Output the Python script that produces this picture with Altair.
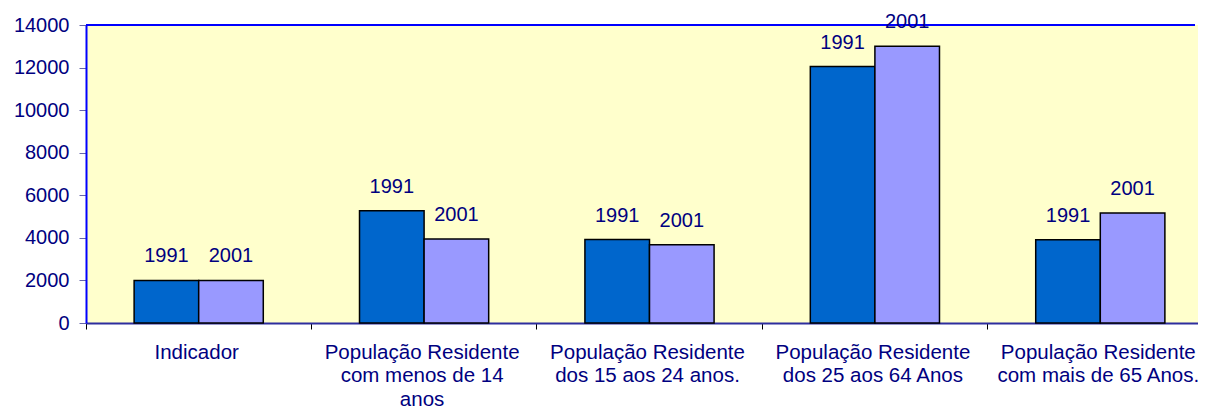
import altair as alt
import pandas as pd

categories = [
    "Indicador",
    "População Residente|com menos de 14|anos",
    "População Residente|dos 15 aos 24 anos.",
    "População Residente|dos 25 aos 64 Anos",
    "População Residente|com mais de 65 Anos.",
]
years = ["1991", "2001"]
values_1991 = [2000, 5270, 3920, 12050, 3910]
values_2001 = [2000, 3950, 3680, 13000, 5170]
y_ticks = [0, 2000, 4000, 6000, 8000, 10000, 12000, 14000]

rows = []
for c, a, b in zip(categories, values_1991, values_2001):
    rows.append({"cat": c, "year": years[0], "value": a})
    rows.append({"cat": c, "year": years[1], "value": b})
df = pd.DataFrame(rows)

FONT = "Liberation Sans"
NAVY = "#000080"
W = 1112
H = 298

x_scale = alt.Scale(range=[0, 1127], paddingInner=0, paddingOuter=0)

x_enc = alt.X(
    "cat:N",
    sort=categories,
    scale=x_scale,
    axis=alt.Axis(
        title=None,
        labelAngle=0,
        bandPosition=0,
        labelExpr="split(datum.label, '|')",
        labelFont=FONT,
        labelFontSize=20.5,
        labelColor=NAVY,
        labelLineHeight=23.5,
        labelPadding=13,
        labelBaseline="top",
        tickSize=6,
        tickColor="#000000",
        domainColor="#2E2E9E",
        domainWidth=2,
        labelLimit=0,
        labelOffset=-2,
    ),
)
xoff_enc = alt.XOffset("year:N", sort=years, scale=alt.Scale(paddingOuter=0.745, paddingInner=0))
y_enc = alt.Y(
    "value:Q",
    scale=alt.Scale(domain=[0, 14000], nice=False),
    axis=alt.Axis(
        title=None,
        values=y_ticks,
        format="d",
        grid=False,
        labelFont=FONT,
        labelFontSize=20,
        labelColor=NAVY,
        labelPadding=10,
        tickSize=7,
        tickColor="#6666AA",
        domainColor="#0000FF",
        domainWidth=2,
    ),
)

base = alt.Chart(df)

bars = base.mark_bar(stroke="#000000", strokeWidth=1.5).encode(
    x=x_enc,
    xOffset=xoff_enc,
    y=y_enc,
    color=alt.Color(
        "year:N",
        scale=alt.Scale(domain=years, range=["#0066CC", "#9999FF"]),
        legend=None,
    ),
)

labels = base.mark_text(
    font=FONT, fontSize=20, color=NAVY, baseline="middle", dy=-24
).encode(
    x=x_enc,
    xOffset=xoff_enc,
    y=y_enc,
    text="year:N",
)

top_border = alt.Chart(pd.DataFrame({"v": [14000]})).mark_rule(
    color="#0000FF", strokeWidth=2
).encode(
    y=alt.Y("v:Q"),
    x=alt.value(0),
    x2=alt.value(W - 3),
)

chart = (
    alt.layer(bars, top_border, labels)
    .properties(
        width=W,
        height=H,
        autosize=alt.AutoSizeParams(type="none"),
        padding={"left": 78, "top": 17, "right": 0, "bottom": 85},
    )
    .configure_view(stroke="transparent", strokeWidth=0, fill="#FFFFCC")
)

chart.save("out.html", embed_options={"renderer": "svg", "actions": False})
